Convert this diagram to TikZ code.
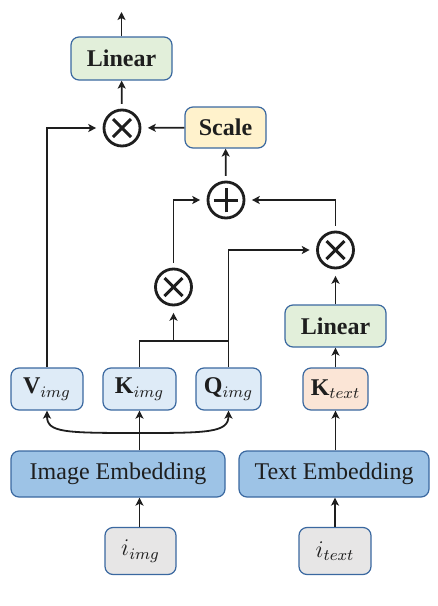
\documentclass[tikz,border=0pt]{standalone}
\usepackage{fontspec}
\setmainfont{Liberation Serif}
\usepackage{amsmath}
\usetikzlibrary{arrows.meta}
\definecolor{Border}{RGB}{58,104,160}
\definecolor{Ink}{RGB}{30,30,30}
\definecolor{LinGreen}{RGB}{226,239,218}
\definecolor{ScaleYellow}{RGB}{255,242,204}
\definecolor{QKVBlue}{RGB}{222,235,247}
\definecolor{TextOrange}{RGB}{251,229,214}
\definecolor{EmbBlue}{RGB}{157,195,230}
\definecolor{InGray}{RGB}{231,230,230}

\begin{document}
\begin{tikzpicture}[x=0.5pt, y=-0.5pt,
		box/.style={draw=Border, line width=0.6pt, rounded corners=4pt, inner sep=0pt, text=Ink, font=\fontsize{12}{14}\selectfont},
		op/.style={circle, draw=Ink, line width=1.4pt, minimum size=18pt, inner sep=0pt},
		mul/.style={op, path picture={
			\draw[Ink, line width=1.5pt] ([shift={(-4.5pt,-4.5pt)}]path picture bounding box.center) -- ([shift={(4.5pt,4.5pt)}]path picture bounding box.center);
			\draw[Ink, line width=1.5pt] ([shift={(-4.5pt,4.5pt)}]path picture bounding box.center) -- ([shift={(4.5pt,-4.5pt)}]path picture bounding box.center);}},
		add/.style={op, path picture={
			\draw[Ink, line width=1.5pt] ([xshift=-6.2pt]path picture bounding box.center) -- ([xshift=6.2pt]path picture bounding box.center);
			\draw[Ink, line width=1.5pt] ([yshift=-6.2pt]path picture bounding box.center) -- ([yshift=6.2pt]path picture bounding box.center);}},
		arr/.style={draw=Ink, line width=0.9pt, -{Stealth[length=4pt, width=4pt, inset=1pt]}},
		flow/.style={draw=Ink, line width=0.9pt},
		toop/.style={shorten >=3.2pt},
		fromop/.style={shorten <=2.4pt}]

	\useasboundingbox (0,0) rectangle (438,606);

	% Inputs
	\node[box, fill=InGray, minimum width=35.5pt, minimum height=23.5pt] (iimg) at (140.5,551) {$i_{img}$};
	\node[box, fill=InGray, minimum width=36pt, minimum height=23.5pt] (itext) at (335,551) {$i_{text}$};

	% Embeddings
	\node[box, fill=EmbBlue, minimum width=107pt, minimum height=23pt] (imgemb) at (118,474) {Image Embedding};
	\node[box, fill=EmbBlue, minimum width=95pt, minimum height=23pt] (txtemb) at (334,474) {Text Embedding};

	% Projections
	\node[box, fill=QKVBlue, minimum width=36pt, minimum height=21pt] (vimg) at (47,389) {$\mathbf{V}_{img}$};
	\node[box, fill=QKVBlue, minimum width=36.5pt, minimum height=21pt] (kimg) at (139.5,389) {$\mathbf{K}_{img}$};
	\node[box, fill=QKVBlue, minimum width=32.5pt, minimum height=21pt] (qimg) at (228.5,389) {$\mathbf{Q}_{img}$};
	\node[box, fill=TextOrange, minimum width=32.5pt, minimum height=21pt] (ktext) at (335.5,389) {$\mathbf{K}_{text}$};

	% Linear layers and scale
	\node[box, fill=LinGreen, minimum width=50.5pt, minimum height=21pt, font=\fontsize{12}{14}\selectfont\bfseries] (linr) at (335.5,326) {Linear};
	\node[box, fill=ScaleYellow, minimum width=40.5pt, minimum height=20.5pt, font=\fontsize{12}{14}\selectfont\bfseries] (scale) at (225.5,127.5) {Scale};
	\node[box, fill=LinGreen, minimum width=50.5pt, minimum height=21.5pt, font=\fontsize{12}{14}\selectfont\bfseries] (lintop) at (121.5,58.5) {Linear};

	% Operators
	\node[mul] (mulm) at (173.5,287) {};
	\node[mul] (mulr) at (335.5,250) {};
	\node[add] (plus) at (226,200) {};
	\node[mul] (multop) at (122,128) {};

	\coordinate (out) at (121.5,12);
	\coordinate (kq) at (173.5,341);
	\coordinate (fork) at (139.5,433);

	% Flows
	\draw[arr] (iimg.north -| kimg) -- (imgemb.south -| kimg);
	\draw[arr] (itext) -- (txtemb.south -| itext);
	\draw[arr] (imgemb.north -| kimg) -- (kimg.south);
	\draw[arr] (fork) .. controls +(-75,0) and +(0,22) .. (vimg.south);
	\draw[arr] (fork) .. controls +(68,0) and +(0,22) .. (qimg.south);
	\draw[arr] (txtemb.north -| ktext) -- (ktext.south);
	\draw[arr] (ktext) -- (linr);
	\draw[arr, toop] (linr) -- (mulr);

	\draw[flow] (kimg.north) |- (kq) -| (qimg.north);
	\draw[arr, toop] (kq) -- (mulm.south);
	\draw[arr, toop] (qimg.north) |- (mulr.west);
	\draw[arr, toop, fromop] (mulm.north) |- (plus.west);
	\draw[arr, toop, fromop] (mulr.north) |- (plus.east);
	\draw[arr, fromop] (plus) -- (scale);
	\draw[arr, toop] (scale) -- (multop);
	\draw[arr, toop] (vimg.north) |- (multop.west);
	\draw[arr, fromop] (multop) -- (lintop);
	\draw[arr] (lintop) -- (out);

\end{tikzpicture}
\end{document}
